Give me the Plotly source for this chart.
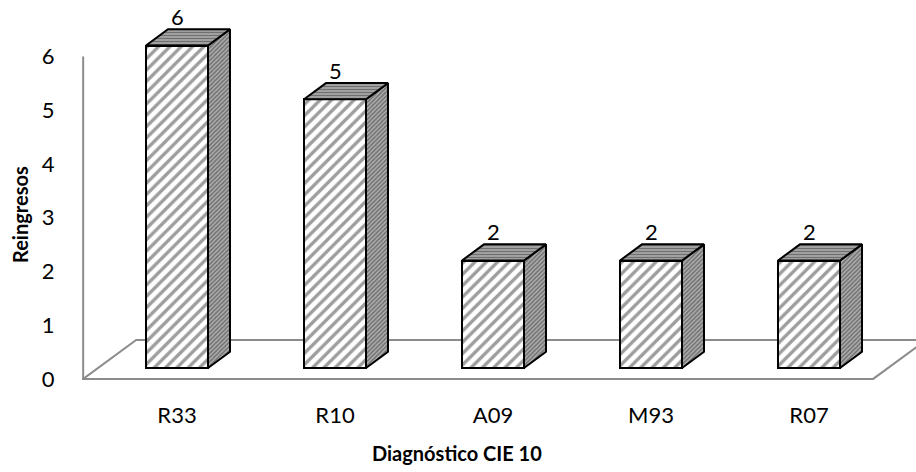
import plotly.graph_objects as go

# ---------------- data ----------------
categories = ["R33", "R10", "A09", "M93", "R07"]
reingresos = [6, 5, 2, 2, 2]
y_tick_values = [0, 1, 2, 3, 4, 5, 6]
x_title = "Diagnóstico CIE 10"
y_title = "Reingresos"

# ---------------- layout constants (pixels) ----------------
W, H = 916, 472
ML, MR, MT, MB = 82, 0, 10, 72
PW, PH = W - ML - MR, H - MT - MB
PX_PER_CAT = 158.0      # horizontal distance between categories
PX_PER_UNIT = 53.75     # vertical pixels per unit
BAR_X0_PX = 177.0       # pixel x of first bar centre (front face)
BAR_Y0_PX = 368.0       # pixel y of value 0 on the bar front plane
FLOOR_DX, FLOOR_DY = 53.0, 39.0   # full floor depth offset in pixels
Z_FRONT, Z_BACK = 0.28, 0.695     # bar front / back depth fractions
BAR_W_PX = 62.0
FONT = "Lato"

# axis ranges (bar front plane coordinates)
x_lo = -(BAR_X0_PX - ML) / PX_PER_CAT
x_hi = x_lo + PW / PX_PER_CAT
y_lo = -((MT + PH) - BAR_Y0_PX) / PX_PER_UNIT
y_hi = y_lo + PH / PX_PER_UNIT

# shift between bar plane and front plane (data units)
fx = Z_FRONT * FLOOR_DX / PX_PER_CAT
fy = Z_FRONT * FLOOR_DY / PX_PER_UNIT
# bar depth offset (data units)
ddx = (Z_BACK - Z_FRONT) * FLOOR_DX / PX_PER_CAT
ddy = (Z_BACK - Z_FRONT) * FLOOR_DY / PX_PER_UNIT
# full floor depth (data units)
Fdx = FLOOR_DX / PX_PER_CAT
Fdy = FLOOR_DY / PX_PER_UNIT
bw = BAR_W_PX / PX_PER_CAT

xs = list(range(len(categories)))

fig = go.Figure()

# side and top faces
for i, v in zip(xs, reingresos):
    xl, xr = i - bw / 2, i + bw / 2
    fig.add_trace(go.Scatter(
        x=[xr, xr + ddx, xr + ddx, xr, xr],
        y=[0, ddy, v + ddy, v, 0],
        mode="lines", fill="toself",
        fillcolor="#9a9a9a",
        fillpattern=dict(shape="/", fgcolor="#2e2e2e", bgcolor="#b0b0b0", size=3, solidity=0.5),
        line=dict(color="black", width=2),
        hoverinfo="skip", showlegend=False))
    fig.add_trace(go.Scatter(
        x=[xl, xr, xr + ddx, xl + ddx, xl],
        y=[v, v, v + ddy, v + ddy, v],
        mode="lines", fill="toself",
        fillcolor="#9a9a9a",
        fillpattern=dict(shape="-", fgcolor="#2e2e2e", bgcolor="#b0b0b0", size=3, solidity=0.5),
        line=dict(color="black", width=2),
        hoverinfo="skip", showlegend=False))

# front faces (the bars)
fig.add_trace(go.Bar(
    x=xs, y=reingresos, width=bw,
    marker=dict(color="white",
                line=dict(color="black", width=2),
                pattern=dict(shape="/", fgcolor="#3c3c3c", bgcolor="white", size=8, solidity=0.42)),
    hoverinfo="skip", showlegend=False))

# empty trace so the front-plane value axis is drawn
fig.add_trace(go.Scatter(x=[], y=[], yaxis="y2", hoverinfo="skip", showlegend=False))

# floor and vertical wall line
gx0 = -0.5 - fx
gx1 = len(categories) - 0.5 - fx
gy0 = -fy
floor_path = (f"M {gx0} {gy0} L {gx1} {gy0} L {gx1 + Fdx} {gy0 + Fdy} "
              f"L {gx0 + Fdx} {gy0 + Fdy} Z")
shapes = [
    dict(type="path", path=floor_path, xref="x", yref="y",
         line=dict(color="#8c8c8c", width=2), layer="below"),
    dict(type="line", xref="x", yref="y", x0=gx0, x1=gx0,
         y0=y_tick_values[0] - fy, y1=y_tick_values[-1] - fy,
         line=dict(color="#8c8c8c", width=2), layer="below"),
]

annotations = [
    dict(x=i, y=v, xref="x", yref="y", text=str(v), showarrow=False,
         yshift=ddy * PX_PER_UNIT + 13, font=dict(family=FONT, size=22, color="black"))
    for i, v in zip(xs, reingresos)
]
annotations += [
    dict(x=(457 - ML) / PW, y=(H - 453 - MB) / PH, xref="paper", yref="paper",
         xanchor="center", yanchor="middle",
         text=f"<b>{x_title}</b>", showarrow=False,
         font=dict(family=FONT, size=20, color="black")),
    dict(x=(20 - ML) / PW, y=(H - 215 - MB) / PH, xref="paper", yref="paper",
         xanchor="center", yanchor="middle",
         text=f"<b>{y_title}</b>", showarrow=False, textangle=-90,
         font=dict(family=FONT, size=20, color="black")),
]

fig.update_layout(
    width=W, height=H,
    margin=dict(l=ML, r=MR, t=MT, b=MB, pad=0),
    paper_bgcolor="white", plot_bgcolor="white",
    bargap=0,
    shapes=shapes, annotations=annotations,
    xaxis=dict(range=[x_lo, x_hi], tickvals=xs, ticktext=categories,
               showgrid=False, zeroline=False, showline=False,
               ticks="",
               tickfont=dict(family=FONT, size=22, color="black")),
    yaxis=dict(range=[y_lo, y_hi], showgrid=False, zeroline=False,
               showline=False, showticklabels=False),
    yaxis2=dict(range=[y_lo + fy, y_hi + fy], overlaying="y", side="left",
                tickvals=y_tick_values, showgrid=False, zeroline=False,
                showline=False, ticks="outside", ticklen=22,
                tickcolor="rgba(0,0,0,0)",
                tickfont=dict(family=FONT, size=22, color="black")),
)

fig.write_html("out.html")
